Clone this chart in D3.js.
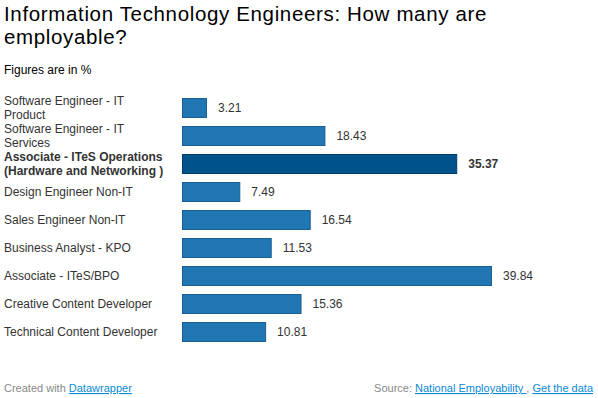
<!DOCTYPE html>
<html>
<head>
<meta charset="utf-8">
<script src="https://cdn.jsdelivr.net/npm/d3@7"></script>
<style>
  body { margin: 0; background: #fff; font-family: "Liberation Sans", Arial, sans-serif; }
</style>
</head>
<body>
<div id="svg-container"></div>
<script>
// chart data
const categories = [
  ["Software Engineer - IT", "Product"],
  ["Software Engineer - IT", "Services"],
  ["Associate - ITeS Operations", "(Hardware and Networking )"],
  ["Design Engineer Non-IT"],
  ["Sales Engineer Non-IT"],
  ["Business Analyst - KPO"],
  ["Associate - ITeS/BPO"],
  ["Creative Content Developer"],
  ["Technical Content Developer"]
];
const values = [3.21, 18.43, 35.37, 7.49, 16.54, 11.53, 39.84, 15.36, 10.81];
const highlighted = [false, false, true, false, false, false, false, false, false];

const width = 598, height = 398;

const svg = d3.select("#svg-container")
  .append("svg")
  .attr("width", width)
  .attr("height", height)
  .style("display", "block");

// header
const title = svg.append("g")
  .attr("font-size", 20.5)
  .attr("letter-spacing", 0.65)
  .attr("fill", "#000");
title.append("text").attr("x", 4).attr("y", 21)
  .text("Information Technology Engineers: How many are");
title.append("text").attr("x", 4).attr("y", 44)
  .text("employable?");
svg.append("text").attr("x", 4).attr("y", 74)
  .attr("font-size", 12).attr("fill", "#000")
  .text("Figures are in %");

const idx = d3.range(values.length);

const x = d3.scaleLinear()
  .domain([0, d3.max(values)])
  .range([182, 492]);

const y = d3.scaleBand()
  .domain(idx)
  .range([94, 94 + 28 * values.length])
  .paddingInner(8 / 28)
  .paddingOuter(4 / 28);

const rows = svg.append("g").selectAll("g")
  .data(idx)
  .enter().append("g");

rows.append("rect")
  .attr("x", x(0) + 0.5)
  .attr("y", i => y(i) + 0.5)
  .attr("width", i => x(values[i]) - x(0) - 1)
  .attr("height", y.bandwidth() - 1)
  .attr("fill", i => highlighted[i] ? "#00528a" : "#2077b4")
  .attr("stroke", i => highlighted[i] ? "#003c6c" : "#1a5f95")
  .attr("stroke-width", 1);

rows.append("text")
  .attr("x", i => x(values[i]) + 11)
  .attr("y", i => y(i) + y.bandwidth() / 2)
  .attr("dy", "0.35em")
  .attr("font-size", 12)
  .attr("font-weight", i => highlighted[i] ? "bold" : "normal")
  .attr("fill", "#333")
  .text(i => values[i].toFixed(2));

rows.append("text")
  .attr("x", 4)
  .attr("font-size", 12)
  .attr("font-weight", i => highlighted[i] ? "bold" : "normal")
  .attr("fill", "#333")
  .each(function (i) {
    const lines = categories[i];
    const cy = y(i) + y.bandwidth() / 2;
    const start = cy - (lines.length - 1) * 14 / 2;
    d3.select(this).selectAll("tspan")
      .data(lines)
      .enter().append("tspan")
      .attr("x", 4)
      .attr("y", (d, k) => start + k * 14)
      .attr("dy", "0.35em")
      .text(d => d);
  });

// footer
const foot = svg.append("g").attr("font-size", 11);
const left = foot.append("text").attr("x", 4).attr("y", 392).attr("fill", "#888");
left.append("tspan").text("Created with ");
left.append("tspan").attr("fill", "#0b8ad6").attr("text-decoration", "underline").text("Datawrapper");

const right = foot.append("text").attr("x", 593).attr("y", 392)
  .attr("text-anchor", "end").attr("fill", "#888");
right.append("tspan").text("Source: ");
right.append("tspan").attr("fill", "#0b8ad6").attr("text-decoration", "underline").text("National Employability ");
right.append("tspan").text(", ");
right.append("tspan").attr("fill", "#0b8ad6").attr("text-decoration", "underline").text("Get the data");
</script>
</body>
</html>
